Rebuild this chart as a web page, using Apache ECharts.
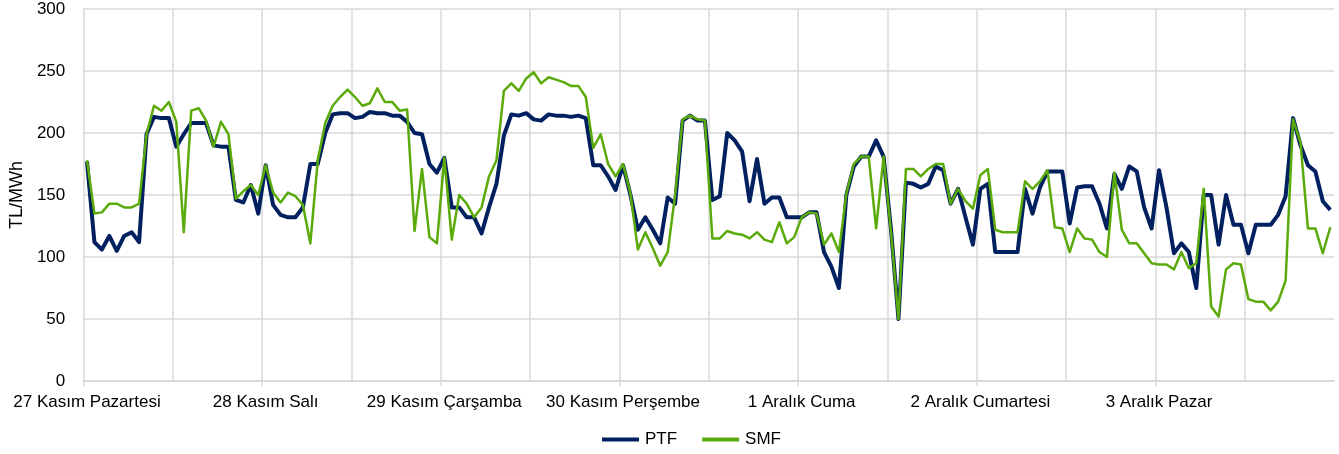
<!DOCTYPE html>
<html>
<head>
<meta charset="utf-8">
<script src="https://cdn.jsdelivr.net/npm/echarts@6/dist/echarts.min.js"></script>
<style>
html,body{margin:0;padding:0;background:#fff;}
#chart{width:1339px;height:454px;}
</style>
</head>
<body>
<div id="chart"></div>
<script>
const days = ["27 Kasım Pazartesi","28 Kasım Salı","29 Kasım Çarşamba","30 Kasım Perşembe","1 Aralık Cuma","2 Aralık Cumartesi","3 Aralık Pazar"];
const hoursPerDay = 24;

const ptf = [
177,112,106,117,105,117,120,112,199,213,212,212,189,199,208,208,208,190,189,189,146,144,158,135,
174,142,134,132,132,140,175,175,200,215,216,216,212,213,217,216,216,214,214,209,200,199,175,168,
180,140,140,132,132,119,140,159,198,215,214,216,211,210,215,214,214,213,214,212,174,174,165,154,
174,150,122,132,122,111,148,143,210,214,210,210,146,149,200,194,185,145,179,143,148,148,132,132,
132,136,136,104,92,75,150,173,181,181,194,181,122,50,160,159,156,159,173,170,143,155,132,110,
155,159,104,104,104,104,155,135,156,169,169,169,127,156,157,157,143,123,167,155,173,169,140,123,
170,140,103,111,104,75,150,150,110,150,126,126,103,126,126,126,134,149,212,190,174,169,145,138
];

const smf = [
178,135,136,143,143,140,140,143,199,222,218,225,209,120,218,220,210,189,209,199,147,153,158,150,
174,152,144,152,149,142,111,178,208,222,229,235,229,222,224,236,225,225,218,219,121,171,116,111,
180,114,150,143,132,140,165,178,234,240,234,244,249,240,245,243,241,238,238,229,188,199,175,165,
175,151,106,120,107,93,104,150,211,214,211,210,115,115,121,119,118,115,120,114,112,128,111,116,
132,136,135,110,119,104,151,175,181,181,123,181,120,50,171,171,165,171,175,175,143,155,145,139,
166,171,122,120,120,120,161,155,161,170,124,123,104,123,115,114,104,100,168,122,111,111,103,95,
94,94,90,104,91,95,155,60,52,90,95,94,66,64,64,57,64,81,211,192,123,123,103,124
];

const categories = [];
days.forEach(d => { for (let h = 0; h < hoursPerDay; h++) categories.push(h === 0 ? d : d + " " + h); });

const chart = echarts.init(document.getElementById('chart'), null, {renderer:'canvas'});
const font = "'Liberation Sans', Arial, sans-serif";
chart.setOption({
  animation:false,
  backgroundColor:'#fff',
  grid:{left:83,right:5,top:9,bottom:73,containLabel:false},
  legend:{
    top:426, left:597,
    itemWidth:37, itemHeight:4, itemGap:25,
    icon:'rect',
    textStyle:{fontFamily:font,fontSize:17,color:'#000',padding:[0,0,0,1]},
    data:['PTF','SMF']
  },
  xAxis:{
    type:'category',
    data:categories,
    boundaryGap:true,
    axisLine:{lineStyle:{color:'#d9d9d9',width:2}},
    axisTick:{show:true,interval:23,length:5,lineStyle:{color:'#d9d9d9',width:1.5}},
    axisLabel:{interval:23,fontFamily:font,fontSize:17,color:'#000',margin:13,
      formatter:v => days.includes(v) ? v : ''},
    splitLine:{show:true,interval:11,lineStyle:{color:'#d9d9d9',width:1.5}}
  },
  yAxis:{
    type:'value',min:0,max:300,interval:50,
    name:'TL/MWh',nameLocation:'middle',nameGap:55,nameRotate:90,
    nameTextStyle:{fontFamily:font,fontSize:18,color:'#000'},
    axisLine:{show:false},axisTick:{show:false},
    axisLabel:{fontFamily:font,fontSize:17,color:'#000',margin:18},
    splitLine:{lineStyle:{color:'#d9d9d9',width:1.5}}
  },
  series:[
    {name:'PTF',type:'line',data:ptf,showSymbol:false,symbol:'none',
     lineStyle:{color:'#002060',width:4,join:'round'},itemStyle:{color:'#002060'},z:2},
    {name:'SMF',type:'line',data:smf,showSymbol:false,symbol:'none',
     lineStyle:{color:'#5aaa0a',width:2.5,join:'round'},itemStyle:{color:'#5aaa0a'},z:3}
  ]
});
</script>
</body>
</html>
